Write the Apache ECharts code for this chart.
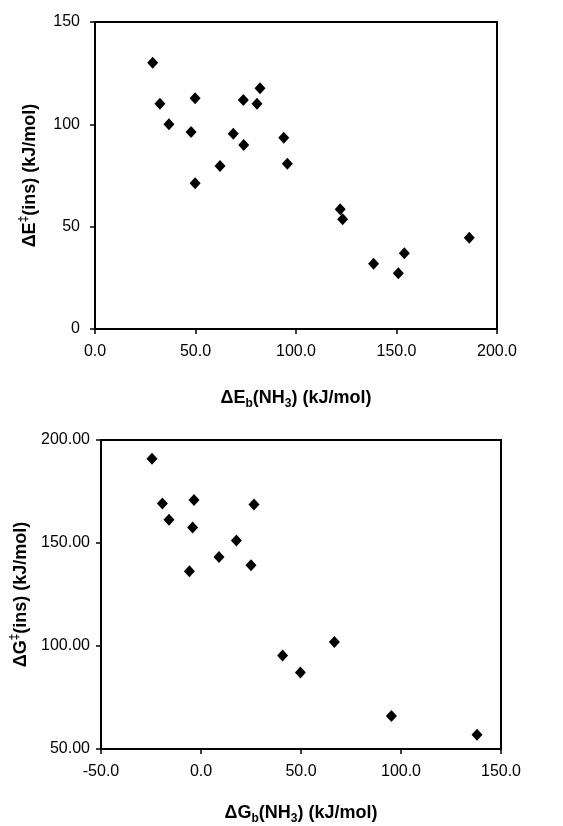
<!DOCTYPE html>
<html>
<head>
<meta charset="utf-8">
<script src="https://cdn.jsdelivr.net/npm/echarts@6/dist/echarts.min.js"></script>
<style>html,body{margin:0;padding:0;background:#fff;}#c{width:563px;height:826px;}</style>
</head>
<body>
<div id="c"></div>
<script>
// Top panel: ΔEb(NH3) vs ΔE‡(ins)
var topX = [28.7, 32.3, 36.8, 49.8, 47.8, 73.8, 82.1, 80.6, 68.8, 74.0, 93.9, 62.2, 95.7, 49.8, 122.0, 123.2, 186.2, 153.9, 138.6, 150.9];
var topY = [130.1, 110.1, 100.0, 112.8, 96.2, 111.9, 117.6, 110.1, 95.4, 89.9, 93.5, 79.6, 80.8, 71.2, 58.5, 53.6, 44.6, 37.0, 31.9, 27.2];
// Bottom panel: ΔGb(NH3) vs ΔG‡(ins)
var botX = [-24.5, -19.3, -3.5, 26.5, -16.0, -4.2, 17.7, 9.0, 25.0, -5.8, 66.7, 40.8, 49.7, 95.2, 138.0];
var botY = [190.9, 169.2, 170.9, 168.7, 161.3, 157.5, 151.2, 143.2, 139.2, 136.3, 102.0, 95.4, 87.1, 66.0, 56.9];
// Axis ranges / ticks [min, max, interval]
var topXTicks = [0, 200, 50];
var topYTicks = [0, 150, 50];
var botXTicks = [-50, 150, 50];
var botYTicks = [50, 200, 50];

function pairs(xs, ys) { return xs.map(function (x, i) { return [x, ys[i]]; }); }

var FONT = '"Liberation Sans", Arial, sans-serif';
var rich = {
  m: { fontSize: 18, fontWeight: 'bold', fontFamily: FONT, color: '#000', lineHeight: 24 },
  sub: { fontSize: 12, fontWeight: 'bold', fontFamily: FONT, color: '#000', verticalAlign: 'bottom' },
  sup: { fontSize: 12, fontWeight: 'bold', fontFamily: FONT, color: '#000', verticalAlign: 'top' }
};

function xAxis(idx, r, dec, name, gap) {
  return {
    type: 'value', gridIndex: idx, min: r[0], max: r[1], interval: r[2],
    name: name, nameLocation: 'middle', nameGap: gap,
    nameTextStyle: { rich: rich },
    axisLine: { show: true, onZero: false, lineStyle: { color: '#000', width: 2 } },
    axisTick: { show: true, inside: false, length: 5, lineStyle: { color: '#000', width: 1.5 } },
    axisLabel: { margin: 15, fontSize: 16, fontFamily: FONT, color: '#000',
      formatter: function (v) { return v.toFixed(dec); } },
    splitLine: { show: false }
  };
}
function yAxis(idx, r, dec, name, gap, margin) {
  return {
    type: 'value', gridIndex: idx, min: r[0], max: r[1], interval: r[2],
    name: name, nameLocation: 'middle', nameGap: gap, nameRotate: 90,
    nameTextStyle: { rich: rich },
    axisLine: { show: true, onZero: false, lineStyle: { color: '#000', width: 2 } },
    axisTick: { show: true, inside: false, length: 5, lineStyle: { color: '#000', width: 1.5 } },
    axisLabel: { margin: margin, fontSize: 16, fontFamily: FONT, color: '#000',
      formatter: function (v) { return v.toFixed(dec); } },
    splitLine: { show: false }
  };
}

var chart = echarts.init(document.getElementById('c'));
chart.setOption({
  animation: false,
  backgroundColor: '#fff',
  grid: [
    { left: 95, top: 22, width: 402, height: 307, show: true, borderColor: '#000', borderWidth: 2, backgroundColor: 'transparent' },
    { left: 101, top: 440, width: 400, height: 312, show: true, borderColor: '#000', borderWidth: 2, backgroundColor: 'transparent' }
  ],
  xAxis: [
    xAxis(0, topXTicks, 1, '{m|ΔE}{sub|b}{m|(NH}{sub|3}{m|) (kJ/mol)}', 57),
    xAxis(1, botXTicks, 1, '{m|ΔG}{sub|b}{m|(NH}{sub|3}{m|) (kJ/mol)}', 52)
  ],
  yAxis: [
    yAxis(0, topYTicks, 0, '{m|ΔE}{sup|‡}{m|(ins) (kJ/mol)}', 53, 15),
    yAxis(1, botYTicks, 2, '{m|ΔG}{sup|‡}{m|(ins) (kJ/mol)}', 60, 11)
  ],
  series: [
    { type: 'scatter', xAxisIndex: 0, yAxisIndex: 0, data: pairs(topX, topY),
      symbol: 'diamond', symbolSize: [11, 12], itemStyle: { color: '#000', opacity: 1 } },
    { type: 'scatter', xAxisIndex: 1, yAxisIndex: 1, data: pairs(botX, botY),
      symbol: 'diamond', symbolSize: [11, 12], itemStyle: { color: '#000', opacity: 1 } }
  ]
});
</script>
</body>
</html>
